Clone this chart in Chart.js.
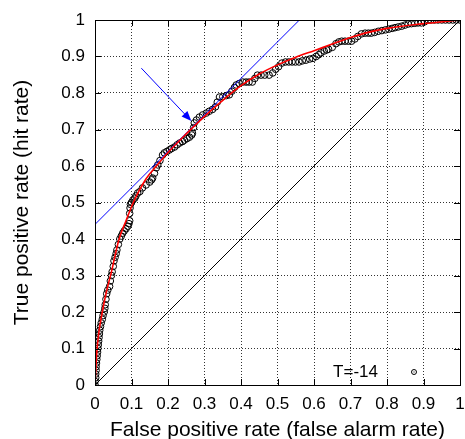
<!DOCTYPE html>
<html>
<head>
<meta charset="utf-8">
<script src="https://cdn.jsdelivr.net/npm/chart.js@4.4.1/dist/chart.umd.min.js"></script>
<style>
  html, body { margin: 0; padding: 0; background: #fff; }
  #wrap { width: 465px; height: 439px; position: relative; }
</style>
</head>
<body>
<div id="wrap"><canvas id="c" width="465" height="439"></canvas></div>
<script>
// ---- data ----
const rocFpr = [0,0,0.002,0.002,0.003,0.003,0.004,0.005,0.006,0.007,0.008,0.009,0.01,0.011,0.012,0.013,0.015,0.017,0.02,0.022,0.025,0.027,0.028,0.03,0.032,0.035,
  0.04,0.042,0.045,0.047,0.05,0.052,0.055,0.058,0.06,0.064,0.068,0.072,0.076,0.08,0.085,0.09,0.093,0.095,
  0.095,0.096,0.097,0.1,0.104,0.109,0.112,0.117,0.123,0.13,0.14,0.15,0.155,0.158,0.163,0.168,0.172,0.178,0.185,0.19,0.197,0.204,0.21,0.218,0.225,0.232,0.24,0.245,0.252,0.259,0.265,0.267,
  0.27,0.272,0.278,0.286,0.295,0.305,0.313,0.322,0.33,0.335,0.341,0.35,0.36,0.368,0.375,0.382,0.387,0.395,0.405,0.414,0.422,0.431,0.438,0.445,0.455,0.465,0.477,0.487,0.495,0.503,0.512,
  0.522,0.531,0.54,0.549,0.559,0.568,0.578,0.588,0.597,0.606,0.613,0.619,0.628,0.635,0.64,0.65,0.66,0.668,0.676,0.685,0.694,0.703,0.712,0.72,0.73,0.74,0.749,0.757,0.766,0.776,0.786,0.796,
  0.805,0.814,0.822,0.831,0.84,0.849,0.858,0.867,0.876,0.885,0.894,0.903,0.913,0.92,0.93,0.94,0.95,0.96,0.97,0.98,0.99,1];
const rocTpr = [0,0.01,0.02,0.03,0.04,0.05,0.06,0.07,0.08,0.09,0.1,0.11,0.12,0.13,0.14,0.15,0.16,0.17,0.18,0.19,0.2,0.21,0.22,0.235,0.25,0.26,
  0.27,0.285,0.3,0.31,0.325,0.34,0.35,0.36,0.37,0.385,0.4,0.408,0.416,0.422,0.428,0.435,0.442,0.45,
  0.47,0.485,0.495,0.5,0.507,0.512,0.518,0.526,0.53,0.54,0.548,0.556,0.562,0.567,0.58,0.595,0.603,0.615,0.63,0.636,0.64,0.644,0.648,0.652,0.658,0.663,0.667,0.671,0.675,0.679,0.685,0.69,
  0.705,0.718,0.726,0.734,0.74,0.745,0.75,0.755,0.762,0.775,0.789,0.79,0.793,0.795,0.805,0.815,0.822,0.826,0.83,0.83,0.83,0.83,0.84,0.849,0.849,0.849,0.849,0.855,0.865,0.872,0.882,
  0.885,0.885,0.885,0.885,0.885,0.888,0.89,0.893,0.895,0.9,0.905,0.91,0.915,0.918,0.92,0.925,0.935,0.94,0.942,0.942,0.942,0.942,0.948,0.955,0.962,0.964,0.964,0.964,0.966,0.969,0.971,0.973,
  0.975,0.977,0.979,0.981,0.983,0.986,0.989,0.99,0.991,0.992,0.992,0.995,1,1,1,1,1,1,1,1,1,1];

const fitFpr = [0,0.005,0.01,0.02,0.03,0.045,0.066,0.085,0.105,0.14,0.17,0.2,0.25,0.3,0.35,0.4,0.45,0.5,0.55,0.6,0.65,0.7,0.74,0.8,0.9,1];
const fitTpr = [0,0.09,0.14,0.2,0.25,0.31,0.4,0.45,0.5,0.565,0.602,0.637,0.688,0.736,0.78,0.82,0.852,0.877,0.898,0.916,0.934,0.952,0.964,0.977,0.99,1];

const tangentFpr = [0, 0.56];
const tangentTpr = [0.44, 1.0];

const chanceFpr = [0, 1];
const chanceTpr = [0, 1];

const arrowFrom = [0.127, 0.868];
const arrowTo = [0.264, 0.723];

const xTicks = [0,0.1,0.2,0.3,0.4,0.5,0.6,0.7,0.8,0.9,1];
const yTicks = [0,0.1,0.2,0.3,0.4,0.5,0.6,0.7,0.8,0.9,1];
const xTickLabels = ['0','0.1','0.2','0.3','0.4','0.5','0.6','0.7','0.8','0.9','1'];
const yTickLabels = ['0','0.1','0.2','0.3','0.4','0.5','0.6','0.7','0.8','0.9','1'];

const legendLabel = 'T=-14';
const xTitle = 'False positive rate (false alarm rate)';
const yTitle = 'True positive rate (hit rate)';

function pts(xs, ys) { return xs.map((x, i) => ({x: x, y: ys[i]})); }

const FONT = "'Liberation Sans', Arial, sans-serif";

const framePlugin = {
  id: 'frame',
  afterDatasetsDraw(chart) {
    const {ctx, chartArea: a, scales: {x, y}} = chart;
    ctx.save();
    // inner ticks on all four sides
    ctx.strokeStyle = '#000';
    ctx.lineWidth = 1;
    ctx.beginPath();
    const tl = 6;
    xTicks.forEach(v => {
      const px = Math.round(x.getPixelForValue(v)) + 0.5;
      ctx.moveTo(px, a.bottom); ctx.lineTo(px, a.bottom - tl);
      ctx.moveTo(px, a.top); ctx.lineTo(px, a.top + tl);
    });
    yTicks.forEach(v => {
      const py = Math.round(y.getPixelForValue(v)) + 0.5;
      ctx.moveTo(a.left, py); ctx.lineTo(a.left + tl, py);
      ctx.moveTo(a.right, py); ctx.lineTo(a.right - tl, py);
    });
    ctx.stroke();
    // frame
    ctx.strokeRect(Math.round(a.left) + 0.5, Math.round(a.top) + 0.5, Math.round(a.right - a.left), Math.round(a.bottom - a.top));

    // key (legend) inside, bottom right
    ctx.fillStyle = '#000';
    ctx.strokeStyle = '#000';
    ctx.font = '17px ' + FONT;
    ctx.textAlign = 'right';
    ctx.textBaseline = 'middle';
    const ky = a.bottom - 13;
    ctx.fillText(legendLabel, a.right - 82, ky);
    ctx.beginPath();
    ctx.arc(a.right - 46, ky, 2.5, 0, Math.PI * 2);
    ctx.stroke();
    ctx.fillRect(a.right - 46.5, ky - 0.5, 1, 1);

    // arrow
    const x0 = x.getPixelForValue(arrowFrom[0]), y0 = y.getPixelForValue(arrowFrom[1]);
    const x1 = x.getPixelForValue(arrowTo[0]), y1 = y.getPixelForValue(arrowTo[1]);
    const ang = Math.atan2(y1 - y0, x1 - x0);
    const hl = 10, hw = 4;
    ctx.strokeStyle = '#0000ff';
    ctx.fillStyle = '#0000ff';
    ctx.lineWidth = 1;
    ctx.beginPath();
    ctx.moveTo(x0, y0);
    ctx.lineTo(x1 - Math.cos(ang) * hl * 0.8, y1 - Math.sin(ang) * hl * 0.8);
    ctx.stroke();
    ctx.beginPath();
    ctx.moveTo(x1, y1);
    ctx.lineTo(x1 - Math.cos(ang) * hl - Math.sin(ang) * hw, y1 - Math.sin(ang) * hl + Math.cos(ang) * hw);
    ctx.lineTo(x1 - Math.cos(ang) * hl + Math.sin(ang) * hw, y1 - Math.sin(ang) * hl - Math.cos(ang) * hw);
    ctx.closePath();
    ctx.fill();
    ctx.restore();
  }
};

new Chart(document.getElementById('c'), {
  type: 'scatter',
  data: {
    datasets: [
      { label: 'fit', data: pts(fitFpr, fitTpr), showLine: true, borderColor: '#ff0000', borderWidth: 1.6, pointRadius: 0, cubicInterpolationMode: 'monotone', fill: false },
      { label: 'tangent', data: pts(tangentFpr, tangentTpr), showLine: true, borderColor: '#0000ff', borderWidth: 1, pointRadius: 0, fill: false },
      { label: legendLabel, data: pts(rocFpr, rocTpr), showLine: false, pointStyle: 'circle', pointRadius: 3.3, borderWidth: 1, borderColor: '#000', backgroundColor: 'rgba(0,0,0,0)' },
      { label: 'chance', data: pts(chanceFpr, chanceTpr), showLine: true, borderColor: '#000', borderWidth: 1, pointRadius: 0, fill: false }
    ]
  },
  options: {
    responsive: false,
    animation: false,
    events: [],
    layout: { padding: { left: 0, right: 3, top: 20, bottom: 0 } },
    plugins: { legend: { display: false }, tooltip: { enabled: false } },
    scales: {
      x: {
        type: 'linear', min: 0, max: 1,
        afterBuildTicks(s) { s.ticks = xTicks.map(v => ({value: v})); },
        afterFit(s) { s.height = 54; s.paddingLeft = 0; s.paddingRight = 0; },
        ticks: { callback: (v, i) => xTickLabels[i], color: '#000', padding: 9, font: { family: FONT, size: 17 }, maxRotation: 0, autoSkip: false },
        grid: { color: '#333', lineWidth: 1, drawTicks: false },
        border: { display: false, dash: [1, 2] },
        title: { display: true, text: xTitle, color: '#000', font: { family: FONT, size: 21, lineHeight: 1 }, padding: { top: 0, bottom: -2 } }
      },
      y: {
        type: 'linear', min: 0, max: 1,
        afterBuildTicks(s) { s.ticks = yTicks.map(v => ({value: v})); },
        afterFit(s) { s.width = 95; s.paddingTop = 0; s.paddingBottom = 0; },
        ticks: { callback: (v, i) => yTickLabels[i], color: '#000', padding: 10, font: { family: FONT, size: 17 }, autoSkip: false },
        grid: { color: '#333', lineWidth: 1, drawTicks: false },
        border: { display: false, dash: [1, 2] },
        title: { display: true, text: yTitle, color: '#000', font: { family: FONT, size: 21 }, padding: { top: 10, bottom: 0 } }
      }
    }
  },
  plugins: [framePlugin]
});
</script>
</body>
</html>
